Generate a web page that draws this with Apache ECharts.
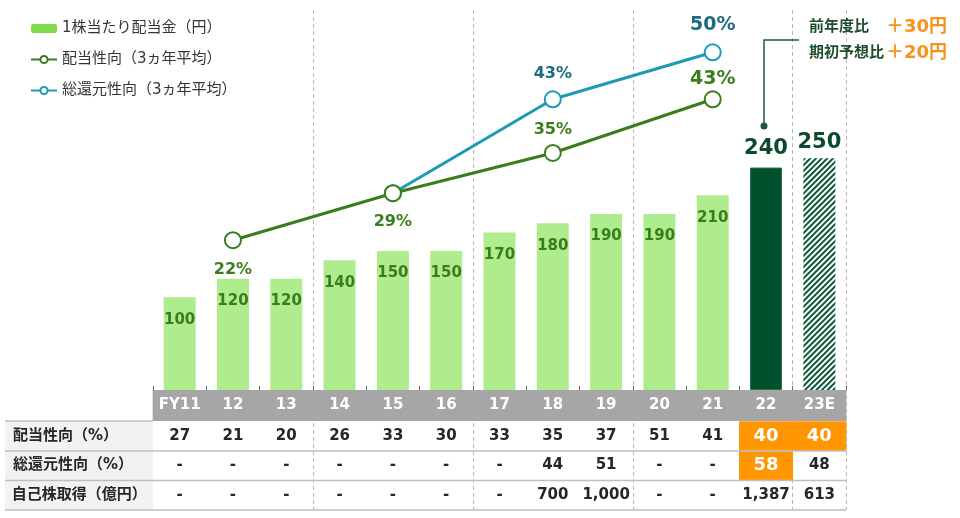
<!DOCTYPE html>
<html>
<head>
<meta charset="utf-8">
<script src="https://cdn.jsdelivr.net/npm/echarts@6/dist/echarts.min.js"></script>
<style>
  html, body { margin: 0; padding: 0; background: #fff; }
  #chart { width: 960px; height: 518px; }
</style>
</head>
<body>
<div id="chart"></div>
<script>
const categories = ['FY11', '12', '13', '14', '15', '16', '17', '18', '19', '20', '21', '22', '23E'];
const dividendPerShare = [100, 120, 120, 140, 150, 150, 170, 180, 190, 190, 210, 240, 250];
const payoutAvg = [null, 22, null, null, 29, null, null, 35, null, null, 43, null, null];
const totalReturnAvg = [null, null, null, null, 29, null, null, 43, null, null, 50, null, null];

const payoutRow = ['27', '21', '20', '26', '33', '30', '33', '35', '37', '51', '41', '40', '40'];
const totalReturnRow = ['-', '-', '-', '-', '-', '-', '-', '44', '51', '-', '-', '58', '48'];
const buybackRow = ['-', '-', '-', '-', '-', '-', '-', '700', '1,000', '-', '-', '1,387', '613'];
const rowNames = ['配当性向（%）', '総還元性向（%）', '自己株取得（億円）'];

const seriesNames = ['1株当たり配当金（円）', '配当性向（3ヵ年平均）', '総還元性向（3ヵ年平均）'];
const noteLines = [['前年度比', '＋30円'], ['期初予想比', '＋20円']];

const FONT = "'DejaVu Sans', 'Noto Sans CJK JP', sans-serif";
const GREEN = '#3a7d1c';
const TEAL = '#1d9bb4';
const DARK = '#00502e';
const ORANGE = '#ff9600';

const chart = echarts.init(document.getElementById('chart'));

// bar items: last actual year solid dark, forecast hatched
const barData = dividendPerShare.map(function (v, i) {
    if (i === 11) {
        return {
            value: v,
            itemStyle: { color: DARK, borderColor: '#2f6e50', borderWidth: 1 },
            label: { position: 'top', distance: 9, color: '#0d4a2c', fontSize: 21 }
        };
    }
    if (i === 12) {
        return {
            value: v,
            itemStyle: {
                color: '#ffffff',
                decal: {
                    symbol: 'rect',
                    symbolSize: 1,
                    dashArrayX: [1, 0],
                    dashArrayY: [2, 1.6],
                    rotation: -Math.PI / 4,
                    color: '#0b5a36'
                }
            },
            label: { position: 'top', distance: 5, color: '#0d4a2c', fontSize: 21 }
        };
    }
    return v;
});

function lineData(values, labels) {
    return values.map(function (v, i) {
        if (v === null) return null;
        const l = labels[i];
        return { value: v, label: l ? l : { show: false } };
    });
}

const payoutLabels = {
    1: { position: 'bottom', distance: 13 },
    4: { position: 'bottom', distance: 12 },
    7: { position: 'top', distance: 6 },
    10: { position: 'top', distance: 2, fontSize: 19 }
};
const totalLabels = {
    7: { position: 'top', distance: 8 },
    10: { position: 'top', distance: 9, fontSize: 19 }
};

function rowAxis(values, name, offset, highlight) {
    return {
        type: 'category',
        data: categories,
        position: 'bottom',
        offset: offset,
        axisLine: { show: false, onZero: false },
        axisTick: { show: false },
        splitLine: { show: false },
        name: name,
        nameLocation: 'start',
        nameGap: 140,
        nameTextStyle: {
            align: 'left',
            verticalAlign: 'middle',
            fontFamily: FONT,
            fontSize: 15,
            fontWeight: 'bold',
            color: '#262626'
        },
        axisLabel: {
            interval: 0,
            margin: 0,
            verticalAlign: 'middle',
            formatter: function (value, index) {
                const s = values[index];
                return (highlight.indexOf(index) >= 0 ? '{hi|' : '{n|') + s + '}';
            },
            rich: {
                n: {
                    width: 54, height: 29, lineHeight: 29, align: 'center',
                    fontFamily: FONT, fontSize: 15, fontWeight: 'bold', color: '#262626'
                },
                hi: {
                    width: 54, height: 29.5, lineHeight: 29, align: 'center', backgroundColor: ORANGE,
                    fontFamily: FONT, fontSize: 18, fontWeight: 'bold', color: '#ffffff'
                }
            }
        }
    };
}

const option = {
    animation: false,
    textStyle: { fontFamily: FONT },
    legend: {
        orient: 'vertical',
        left: 25,
        top: 15,
        itemWidth: 26,
        itemHeight: 9,
        itemGap: 14,
        textStyle: { fontFamily: FONT, fontSize: 15, color: '#333', lineHeight: 17 },
        data: [
            { name: seriesNames[0], itemStyle: { color: '#7ddc4c' } },
            { name: seriesNames[1] },
            { name: seriesNames[2] }
        ]
    },
    grid: { left: 153, right: 114, top: 10, bottom: 8, containLabel: false, outerBoundsMode: 'none' },
    xAxis: [
        {
            // group separators only
            type: 'category',
            data: categories,
            position: 'bottom',
            axisLine: { show: false, onZero: false },
            axisTick: { show: false },
            axisLabel: { show: false },
            splitLine: {
                show: true,
                interval: function (index) { return index === 3 || index === 6 || index === 9 || index === 12; },
                lineStyle: { color: '#b8b8b8', type: [4, 3], width: 1 }
            }
        },
        {
            type: 'category',
            data: categories,
            position: 'bottom',
            offset: -120,
            axisLine: { show: true, onZero: false, lineStyle: { color: '#a6a6a6' } },
            axisTick: { show: true, inside: true, length: 4, lineStyle: { color: '#666' } },
            splitLine: { show: false },
            axisLabel: {
                interval: 0,
                margin: 0,
                width: 54,
                height: 31,
                lineHeight: 31,
                align: 'center',
                backgroundColor: '#a6a6a6',
                color: '#ffffff',
                fontFamily: FONT,
                fontSize: 15,
                fontWeight: 'bold'
            }
        },
        rowAxis(payoutRow, rowNames[0], -74, [11, 12]),
        rowAxis(totalReturnRow, rowNames[1], -44.5, [11]),
        rowAxis(buybackRow, rowNames[2], -15, [])
    ],
    yAxis: [
        { type: 'value', show: false, min: -129.5, max: 410, splitLine: { show: false } },
        { type: 'value', show: false, min: -18.2, max: 56.3, splitLine: { show: false } }
    ],
    series: [
        {
            name: seriesNames[0],
            type: 'bar',
            xAxisIndex: 1,
            yAxisIndex: 0,
            barWidth: 32,
            itemStyle: { color: '#aeec8e' },
            label: {
                show: true,
                position: 'insideTop',
                distance: 15,
                color: GREEN,
                fontFamily: FONT,
                fontSize: 15,
                fontWeight: 'bold'
            },
            data: barData
        },
        {
            name: seriesNames[1],
            type: 'line',
            xAxisIndex: 1,
            yAxisIndex: 1,
            connectNulls: true,
            symbol: 'emptyCircle',
            symbolSize: 16,
            lineStyle: { color: GREEN, width: 3 },
            itemStyle: { color: GREEN, borderWidth: 2.5 },
            z: 4,
            label: {
                show: true,
                color: GREEN,
                fontFamily: FONT,
                fontSize: 16,
                fontWeight: 'bold',
                formatter: '{c}%'
            },
            data: lineData(payoutAvg, payoutLabels)
        },
        {
            name: seriesNames[2],
            type: 'line',
            xAxisIndex: 1,
            yAxisIndex: 1,
            connectNulls: true,
            symbol: 'emptyCircle',
            symbolSize: 16,
            lineStyle: { color: TEAL, width: 3 },
            itemStyle: { color: TEAL, borderWidth: 2.5 },
            z: 3,
            label: {
                show: true,
                color: '#1b6c7e',
                fontFamily: FONT,
                fontSize: 16,
                fontWeight: 'bold',
                formatter: '{c}%'
            },
            data: lineData(totalReturnAvg, totalLabels)
        }
    ],
    graphic: [
        // row-header column background
        { type: 'rect', shape: { x: 5, y: 421, width: 148, height: 89 }, style: { fill: '#f2f2f2' }, z: -1 },
        // table rules
        { type: 'line', shape: { x1: 5, y1: 421, x2: 153, y2: 421 }, style: { stroke: '#bfbfbf', lineWidth: 1.5 }, z: 10 },
        { type: 'line', shape: { x1: 5, y1: 451, x2: 846, y2: 451 }, style: { stroke: '#bfbfbf', lineWidth: 1.5 }, z: 10 },
        { type: 'line', shape: { x1: 5, y1: 480.5, x2: 846, y2: 480.5 }, style: { stroke: '#bfbfbf', lineWidth: 1.5 }, z: 10 },
        { type: 'line', shape: { x1: 5, y1: 510, x2: 846, y2: 510 }, style: { stroke: '#bfbfbf', lineWidth: 1.5 }, z: 10 },
        // callout to FY22 bar
        { type: 'polyline', shape: { points: [[799, 40], [764, 40], [764, 126]] }, style: { stroke: '#1e5a3a', lineWidth: 1.5, fill: null }, z: 10 },
        { type: 'circle', shape: { cx: 764, cy: 126, r: 3.5 }, style: { fill: '#1e5a3a' }, z: 10 },
        { type: 'text', x: 809, y: 27, style: { text: noteLines[0][0], fill: '#1e4d2b', font: 'bold 15px ' + FONT, verticalAlign: 'middle' }, z: 10 },
        { type: 'text', x: 947, y: 27, style: { text: noteLines[0][1], fill: '#f8921c', font: 'bold 18px ' + FONT, align: 'right', verticalAlign: 'middle' }, z: 10 },
        { type: 'text', x: 809, y: 53, style: { text: noteLines[1][0], fill: '#1e4d2b', font: 'bold 15px ' + FONT, verticalAlign: 'middle' }, z: 10 },
        { type: 'text', x: 947, y: 53, style: { text: noteLines[1][1], fill: '#f8921c', font: 'bold 18px ' + FONT, align: 'right', verticalAlign: 'middle' }, z: 10 }
    ]
};

chart.setOption(option);
</script>
</body>
</html>
